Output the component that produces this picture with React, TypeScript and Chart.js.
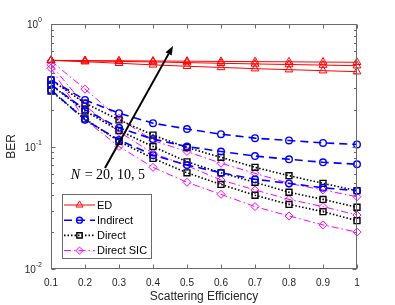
import React, { useEffect, useRef } from 'react';
import { Chart, registerables } from 'chart.js';

Chart.register(...registerables);

// ---------- data ----------
const xValues = [0.1, 0.2, 0.3, 0.4, 0.5, 0.6, 0.7, 0.8, 0.9, 1];

const ED_N5 = [0.505, 0.503, 0.501, 0.499, 0.497, 0.495, 0.493, 0.491, 0.489, 0.487];
const ED_N10 = [0.505, 0.5, 0.495, 0.49, 0.484, 0.478, 0.472, 0.467, 0.462, 0.457];
const ED_N20 = [0.505, 0.492, 0.478, 0.464, 0.452, 0.442, 0.432, 0.424, 0.416, 0.408];

const Indirect_N5 = [0.35, 0.24, 0.187, 0.155, 0.139, 0.126, 0.117, 0.112, 0.107, 0.104];
const Indirect_N10 = [0.32, 0.2, 0.142, 0.115, 0.1, 0.091, 0.0836, 0.0786, 0.0743, 0.0716];
const Indirect_N20 = [0.29, 0.165, 0.113, 0.085, 0.0706, 0.061, 0.054, 0.05, 0.046, 0.0436];

const Direct_N5 = [0.349, 0.226, 0.165, 0.124, 0.098, 0.0816, 0.0676, 0.0578, 0.05, 0.0436];
const Direct_N10 = [0.318, 0.195, 0.135, 0.1, 0.075, 0.061, 0.051, 0.0423, 0.037, 0.0319];
const Direct_N20 = [0.284, 0.168, 0.11, 0.08, 0.061, 0.049, 0.04, 0.0337, 0.0294, 0.0248];

const SIC_N5 = [0.5, 0.294, 0.17, 0.112, 0.091, 0.073, 0.0604, 0.05, 0.0442, 0.0389];
const SIC_N10 = [0.465, 0.215, 0.132, 0.088, 0.0697, 0.0533, 0.0442, 0.037, 0.0323, 0.0276];
const SIC_N20 = [0.435, 0.165, 0.1, 0.0676, 0.051, 0.0407, 0.0323, 0.0271, 0.0229, 0.02];

const xTicks = [0.1, 0.2, 0.3, 0.4, 0.5, 0.6, 0.7, 0.8, 0.9, 1];
const yDecades = [1, 0.1, 0.01];
const yDecadeExponents = ['0', '-1', '-2'];

const legendLabels = ['ED', 'Indirect', 'Direct', 'Direct SIC'];
const xTitle = 'Scattering Efficiency';
const yTitle = 'BER';

const annotationItalic = 'N';
const annotationRest = ' = 20, 10, 5';
const annotationAt = { x: 0.266, y: 0.0585 };
const arrowTail = { x: 0.2588, y: 0.0667 };
const arrowHead = { x: 0.4588, y: 0.661 };

// ---------- styles ----------
const FONT = '"Liberation Sans", Arial, Helvetica, sans-serif';
const AXIS_COLOR = '#6a6a6a';
const TEXT_COLOR = '#262626';

type Group = {
  label: string;
  color: string;
  dash: number[];
  width: number;
  point: string;
  radius: number;
  pointWidth: number;
  series: number[][];
};

const groups: Group[] = [
  { label: legendLabels[0], color: '#ff0000', dash: [], width: 1, point: 'triangle', radius: 4.5, pointWidth: 1, series: [ED_N20, ED_N10, ED_N5] },
  { label: legendLabels[1], color: '#0000ff', dash: [8, 5], width: 1.6, point: 'circle', radius: 3.3, pointWidth: 1.4, series: [Indirect_N20, Indirect_N10, Indirect_N5] },
  { label: legendLabels[2], color: '#000000', dash: [1.5, 2], width: 1.6, point: 'rect', radius: 4.2, pointWidth: 1.4, series: [Direct_N20, Direct_N10, Direct_N5] },
  { label: legendLabels[3], color: '#ff00ff', dash: [7, 3, 1.5, 3], width: 1, point: 'rectRot', radius: 4, pointWidth: 1, series: [SIC_N20, SIC_N10, SIC_N5] },
];

function drawMarker(ctx: CanvasRenderingContext2D, style: string, x: number, y: number, r: number) {
  ctx.beginPath();
  if (style === 'triangle') {
    ctx.moveTo(x, y - r);
    ctx.lineTo(x + r * 0.866, y + r * 0.5);
    ctx.lineTo(x - r * 0.866, y + r * 0.5);
    ctx.closePath();
  } else if (style === 'circle') {
    ctx.arc(x, y, r, 0, Math.PI * 2);
  } else if (style === 'rect') {
    const s = r * Math.SQRT1_2;
    ctx.rect(x - s, y - s, 2 * s, 2 * s);
  } else {
    ctx.moveTo(x - r, y);
    ctx.lineTo(x, y - r);
    ctx.lineTo(x + r, y);
    ctx.lineTo(x, y + r);
    ctx.closePath();
  }
  ctx.stroke();
}

const overlay = {
  id: 'overlay',
  afterDatasetsDraw(chart: any) {
    const { ctx, chartArea: ca, scales } = chart;
    const xs = scales.x;
    const ys = scales.y;
    ctx.save();
    ctx.setLineDash([]);

    // axes box
    const L = Math.round(ca.left) + 0.5;
    const R = Math.round(ca.right) - 0.5;
    const T = Math.round(ca.top) + 0.5;
    const B = Math.round(ca.bottom) - 0.5;
    ctx.strokeStyle = AXIS_COLOR;
    ctx.lineWidth = 1;
    ctx.strokeRect(L, T, R - L, B - T);

    // x ticks
    ctx.beginPath();
    xTicks.forEach((t) => {
      const px = Math.round(xs.getPixelForValue(t)) + 0.5;
      ctx.moveTo(px, B);
      ctx.lineTo(px, B - 4);
      ctx.moveTo(px, T);
      ctx.lineTo(px, T + 4);
    });
    // y ticks (log)
    for (let e = -2; e <= 0; e++) {
      for (let m = 1; m <= 9; m++) {
        if (e === 0 && m > 1) break;
        const v = m * Math.pow(10, e);
        const py = Math.round(ys.getPixelForValue(v)) + 0.5;
        const len = m === 1 ? 4 : 2.5;
        ctx.moveTo(L, py);
        ctx.lineTo(L + len, py);
        ctx.moveTo(R, py);
        ctx.lineTo(R - len, py);
      }
    }
    ctx.stroke();

    // y tick labels with superscripts
    ctx.fillStyle = TEXT_COLOR;
    ctx.textBaseline = 'middle';
    yDecades.forEach((v, i) => {
      const py = ys.getPixelForValue(v);
      const exp = yDecadeExponents[i];
      ctx.font = `7px ${FONT}`;
      const ew = ctx.measureText(exp).width;
      const right = ca.left - 9;
      ctx.textAlign = 'left';
      ctx.fillText(exp, right - ew, py - 3.5);
      ctx.font = `10px ${FONT}`;
      ctx.textAlign = 'right';
      ctx.fillText('10', right - ew, py + 1.5);
    });

    // arrow
    const tx = xs.getPixelForValue(arrowTail.x);
    const ty = ys.getPixelForValue(arrowTail.y);
    const hx = xs.getPixelForValue(arrowHead.x);
    const hy = ys.getPixelForValue(arrowHead.y);
    const ang = Math.atan2(hy - ty, hx - tx);
    const headLen = 9;
    const headW = 3.5;
    const bx = hx - Math.cos(ang) * headLen;
    const by = hy - Math.sin(ang) * headLen;
    ctx.strokeStyle = '#000';
    ctx.lineWidth = 2;
    ctx.beginPath();
    ctx.moveTo(tx, ty);
    ctx.lineTo(bx, by);
    ctx.stroke();
    ctx.fillStyle = '#000';
    ctx.beginPath();
    ctx.moveTo(hx, hy);
    ctx.lineTo(bx + Math.sin(ang) * headW, by - Math.cos(ang) * headW);
    ctx.lineTo(bx - Math.sin(ang) * headW, by + Math.cos(ang) * headW);
    ctx.closePath();
    ctx.fill();

    // annotation
    const ax = xs.getPixelForValue(annotationAt.x);
    const ay = ys.getPixelForValue(annotationAt.y);
    ctx.font = `italic 14px "Liberation Serif", "DejaVu Serif", serif`;
    const w1 = ctx.measureText(annotationItalic).width;
    ctx.font = `14px "Liberation Serif", "DejaVu Serif", serif`;
    const w2 = ctx.measureText(annotationRest).width;
    const sx = ax - (w1 + w2) / 2;
    ctx.textAlign = 'left';
    ctx.textBaseline = 'middle';
    ctx.fillStyle = '#000';
    ctx.font = `italic 14px "Liberation Serif", "DejaVu Serif", serif`;
    ctx.fillText(annotationItalic, sx, ay);
    ctx.font = `14px "Liberation Serif", "DejaVu Serif", serif`;
    ctx.fillText(annotationRest, sx + w1 + 1, ay);

    // legend
    const lx = Math.round(ca.left) + 11;
    const ly = Math.round(ca.top) + 170;
    const lw = 89;
    const lh = 64;
    ctx.fillStyle = '#fff';
    ctx.fillRect(lx, ly, lw, lh);
    ctx.strokeStyle = AXIS_COLOR;
    ctx.lineWidth = 1;
    ctx.strokeRect(lx + 0.5, ly + 0.5, lw, lh);
    groups.forEach((g, i) => {
      const ey = ly + 11 + i * 15.2;
      ctx.strokeStyle = g.color;
      ctx.lineWidth = g.width;
      ctx.setLineDash(g.dash);
      ctx.beginPath();
      ctx.moveTo(lx + 2, ey);
      ctx.lineTo(lx + 33, ey);
      ctx.stroke();
      ctx.setLineDash([]);
      ctx.lineWidth = g.pointWidth;
      drawMarker(ctx, g.point, lx + 17.5, ey, g.radius * 0.9);
      ctx.fillStyle = '#000';
      ctx.font = `11px ${FONT}`;
      ctx.textAlign = 'left';
      ctx.textBaseline = 'middle';
      ctx.fillText(g.label, lx + 35, ey + 0.5);
    });

    ctx.restore();
  },
};

export default function App() {
  const canvasRef = useRef<HTMLCanvasElement | null>(null);

  useEffect(() => {
    if (!canvasRef.current) return;
    const datasets: any[] = [];
    groups.forEach((g) => {
      g.series.forEach((s, k) => {
        datasets.push({
          label: k === 0 ? g.label : `${g.label} ${k}`,
          data: xValues.map((x, i) => ({ x, y: s[i] })),
          borderColor: g.color,
          borderWidth: g.width,
          borderDash: g.dash,
          pointStyle: g.point,
          pointRadius: g.radius,
          pointBorderWidth: g.pointWidth,
          pointBorderColor: g.color,
          pointBackgroundColor: 'rgba(0,0,0,0)',
          fill: false,
          tension: 0,
          clip: false,
        });
      });
    });

    const chart = new Chart(canvasRef.current, {
      type: 'line',
      data: { datasets },
      options: {
        animation: false,
        responsive: false,
        devicePixelRatio: 1,
        layout: { padding: { top: 24, right: 38, left: 0, bottom: 0 } },
        plugins: { legend: { display: false }, tooltip: { enabled: false } },
        scales: {
          x: {
            type: 'linear',
            position: 'bottom',
            min: 0.1,
            max: 1,
            grid: { display: false },
            border: { display: false },
            ticks: {
              stepSize: 0.1,
              autoSkip: false,
              maxRotation: 0,
              padding: 0,
              color: TEXT_COLOR,
              font: { family: FONT, size: 10 },
              callback: (v: any) => String(Math.round(Number(v) * 10) / 10),
            },
            title: {
              display: true,
              text: xTitle,
              color: TEXT_COLOR,
              font: { family: FONT, size: 12 },
              padding: { top: 0, bottom: 1 },
            },
            afterFit: (s: any) => {
              s.height = 36;
            },
          },
          y: {
            type: 'logarithmic',
            position: 'left',
            min: 0.01,
            max: 1,
            grid: { display: false },
            border: { display: false },
            ticks: { display: false },
            title: {
              display: true,
              text: yTitle,
              color: TEXT_COLOR,
              font: { family: FONT, size: 12 },
              padding: { top: 4, bottom: 0 },
            },
            afterFit: (s: any) => {
              s.width = 51;
            },
          },
        },
      },
      plugins: [overlay],
    });
    return () => chart.destroy();
  }, []);

  return (
    <div style={{ position: 'fixed', left: 0, top: 0, width: 395, height: 305, background: '#fff' }}>
      <canvas ref={canvasRef} width={395} height={305} />
    </div>
  );
}
